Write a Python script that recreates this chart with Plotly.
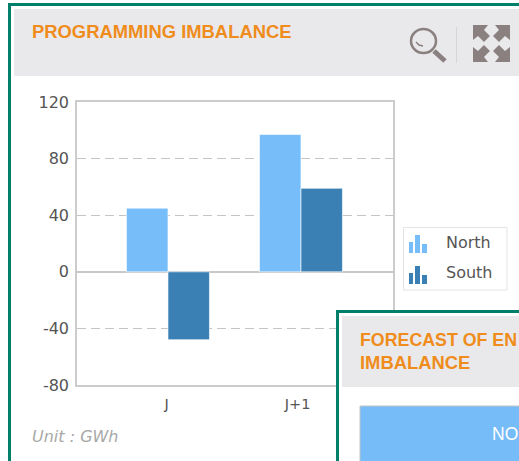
import plotly.graph_objects as go

categories = ["J", "J+1"]
north = [45, 97]
south = [-48, 59]
tick_vals = [120, 80, 40, 0, -40, -80]
tick_text = ["120", "80", "40", "0", "-40", "-80"]

L, R, T, B = 77, 393, 102, 385
W, H = 519, 461
def px(x): return (x - L) / (R - L)
def py(y): return (B - y) / (B - T)

GREEN = "#00806a"; HEAD = "#e9e9eb"; ORANGE = "#ef8c1c"; ICON = "#8b8080"
C_N = "#76bdf9"; C_S = "#3b80b5"; TXT = "#555555"

fig = go.Figure()
for name, vals, col in [("North", north, C_N), ("South", south, C_S)]:
    fig.add_trace(go.Bar(x=[0, 1], y=vals, name=name, marker=dict(color=col, line=dict(color="rgba(255,255,255,0.6)", width=1)), showlegend=False))

shapes = []
def rect(x0, y0, x1, y1, fill, line=None, lw=0, layer="above"):
    shapes.append(dict(type="rect", xref="paper", yref="paper", x0=px(x0), x1=px(x1), y0=py(y0), y1=py(y1),
                       fillcolor=fill, line=dict(color=line or fill, width=lw), layer=layer))
def path(points, fill=None, line=None, lw=0, close=True):
    d = "M" + " L".join(f"{px(a):.5f},{py(b):.5f}" for a, b in points) + (" Z" if close else "")
    shapes.append(dict(type="path", xref="paper", yref="paper", path=d, fillcolor=fill or "rgba(0,0,0,0)",
                       line=dict(color=line or "rgba(0,0,0,0)", width=lw), layer="above"))

# main frame
rect(8, 3, W + 5, 6, GREEN)
rect(8, 3, 11, H + 5, GREEN)
rect(14, 9, W + 5, 76, HEAD)

# magnifier
shapes.append(dict(type="circle", xref="paper", yref="paper", x0=px(411), x1=px(436), y0=py(29), y1=py(53),
                   fillcolor="rgba(0,0,0,0)", line=dict(color=ICON, width=2.5), layer="above"))
path([(434, 51), (445, 61)], line=ICON, lw=5, close=False)
path([(416, 42), (419, 45), (423, 46)], line=ICON, lw=1.5, close=False)
rect(456, 27, 457, 63, "#d6d6d6")
# expand arrows
for sx, sy, cx, cy in [(1, 1, 473, 25), (-1, 1, 510, 25), (1, -1, 473, 62), (-1, -1, 510, 62)]:
    path([(cx, cy), (cx + sx * 15, cy), (cx + sx * 11, cy + sy * 5), (cx + sx * 17, cy + sy * 11),
          (cx + sx * 11, cy + sy * 17), (cx + sx * 5, cy + sy * 11), (cx, cy + sy * 15)], fill=ICON)

# legend
rect(403.5, 227.5, 507, 290, "#ffffff", "#e4e4e4", 1)
for top, col in [(235, C_N), (266, C_S)]:
    rect(409, top + 7, 413, top + 18, col)
    rect(415, top, 420, top + 18, col)
    rect(422, top + 9, 427, top + 18, col)

# second panel
rect(336, 310, W + 5, H + 5, GREEN)
rect(339, 313, W + 5, H + 5, "#ffffff")
rect(342, 316, W + 5, 387, HEAD)
rect(360, 406, W + 5, H + 5, "#76bcf8", "#c4c4c4", 1)

ann = []
def text(x, y, s, size, color, family="DejaVu Sans", bold=False, italic=False):
    if bold: s = f"<b>{s}</b>"
    if italic: s = f"<i>{s}</i>"
    ann.append(dict(xref="paper", yref="paper", x=px(x), y=py(y), text=s, showarrow=False, xanchor="left",
                    yanchor="middle", xshift=0, font=dict(size=size, color=color, family=family)))
text(30, 31, "PROGRAMMING IMBALANCE", 18.4, ORANGE, "Liberation Sans", bold=True)
text(358, 340, "FORECAST OF EN", 17.8, ORANGE, "Liberation Sans", bold=True)
text(358, 362, "IMBALANCE", 18.4, ORANGE, "Liberation Sans", bold=True)
text(490, 434, "NO", 17.5, "#ffffff", "Liberation Sans")
text(444, 242, "North", 16, TXT)
text(444, 272, "South", 16, TXT)
text(30, 436, "Unit : GWh", 16, "#a8a8a8", italic=True)

fig.update_layout(
    width=W, height=H, margin=dict(l=L, r=W - R, t=T, b=H - B, pad=0),
    paper_bgcolor="#ffffff", plot_bgcolor="#ffffff", barmode="group", bargap=0.376, bargroupgap=0,
    shapes=shapes, annotations=ann, showlegend=False,
    font=dict(family="DejaVu Sans", size=14, color=TXT),
    xaxis=dict(range=[-0.684, 1.692], tickvals=[-0.01, 0.975], ticktext=categories, showgrid=False, zeroline=False,
               showline=True, linecolor="#cccccc", linewidth=1.5, mirror=True, ticks="outside", ticklen=5,
               tickcolor="rgba(0,0,0,0)", tickfont=dict(size=14.5, color=TXT)),
    yaxis=dict(range=[-80, 120], tickvals=tick_vals, ticktext=tick_text, showgrid=True, gridcolor="#c4c4c4",
               griddash="9px,5px", gridwidth=1,
               zeroline=True, zerolinecolor="#c8c8c8", zerolinewidth=2, showline=True, linecolor="#cccccc", linewidth=1.5,
               mirror=True, ticks="outside", ticklen=3, tickcolor="rgba(0,0,0,0)", tickfont=dict(size=16, color=TXT)),
)
fig.write_html("out.html", config=dict(displayModeBar=False),
               post_script="document.body.style.margin='0';document.body.style.overflow='hidden';")
